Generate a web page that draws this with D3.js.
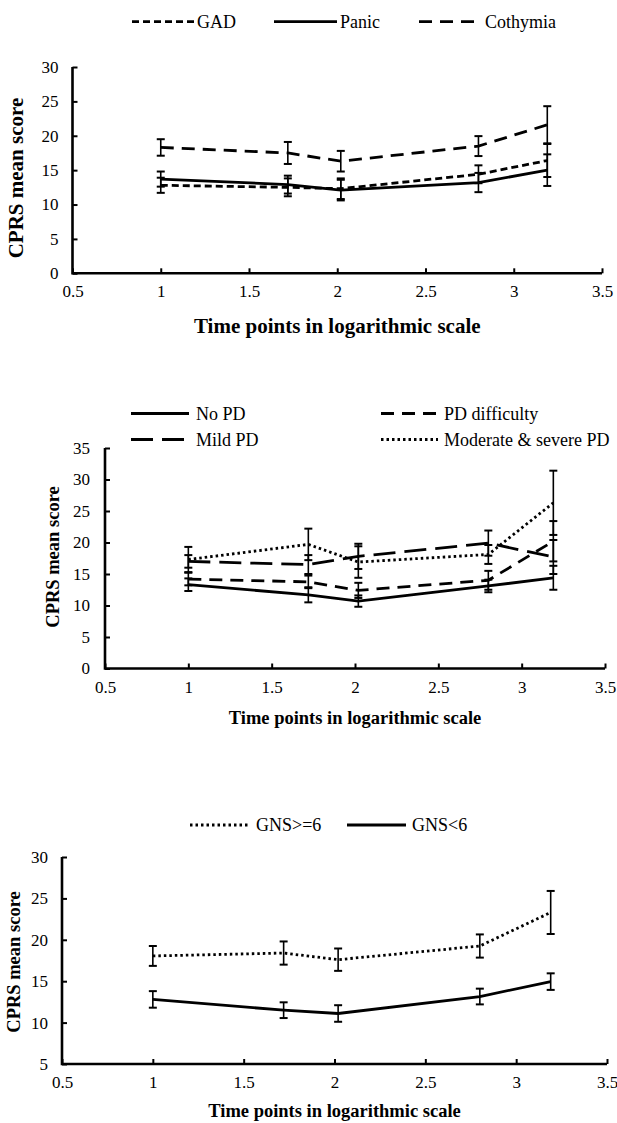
<!DOCTYPE html>
<html>
<head>
<meta charset="utf-8">
<script src="https://cdn.jsdelivr.net/npm/d3@7"></script>
<style>
body{margin:0;background:#fff}
svg text{font-family:"Liberation Serif","DejaVu Serif",serif;fill:#000}
</style>
</head>
<body>
<div id="chart"></div>
<script>
var w = 617
var h = 1123
var serif = '"Liberation Serif", "DejaVu Serif", serif'

// time points (log scale) shared by all panels
var timePoints = [1, 1.72, 2.02, 2.8, 3.19]
var xTicks = [0.5, 1, 1.5, 2, 2.5, 3, 3.5]

// panel 1
var p1Names = ["GAD", "Panic", "Cothymia"]
var gadMean = [12.8, 12.5, 12.3, 14.4, 16.4]
var gadErr = [1.1, 1.3, 1.5, 1.3, 2.4]
var panicMean = [13.7, 12.9, 12.1, 13.2, 15.0]
var panicErr = [1.1, 1.3, 1.5, 1.4, 2.3]
var cothymiaMean = [18.3, 17.5, 16.3, 18.5, 21.6]
var cothymiaErr = [1.2, 1.6, 1.5, 1.45, 2.7]
var p1Ticks = [0, 5, 10, 15, 20, 25, 30]

// panel 2
var p2Names = ["No PD", "PD difficulty", "Mild PD", "Moderate & severe PD"]
var noPdMean = [13.3, 11.7, 10.7, 13.1, 14.4]
var noPdErr = [1.0, 1.2, 0.9, 1.0, 1.9]
var pdDiffMean = [14.2, 13.75, 12.4, 14.0, 20.2]
var pdDiffErr = [1.0, 1.0, 1.2, 1.5, 3.2]
var mildMean = [17.0, 16.5, 17.8, 19.9, 17.7]
var mildErr = [1.0, 1.5, 2.0, 2.0, 2.7]
var modSevMean = [17.3, 19.7, 16.9, 18.1, 26.3]
var modSevErr = [2.0, 2.5, 2.5, 1.5, 5.1]
var p2Ticks = [0, 5, 10, 15, 20, 25, 30, 35]

// panel 3
var p3Names = ["GNS>=6", "GNS<6"]
var gnsHighMean = [18.05, 18.4, 17.6, 19.25, 23.3]
var gnsHighErr = [1.2, 1.4, 1.35, 1.4, 2.6]
var gnsLowMean = [12.8, 11.5, 11.1, 13.15, 14.95]
var gnsLowErr = [1.0, 0.95, 1.0, 0.95, 1.0]
var p3Ticks = [5, 10, 15, 20, 25, 30]

var dash = {
	solid: null,
	short: "7,4",
	medium: "13,8",
	long: "22,9",
	dot: "2.5,3"
}

var svg = d3.select("#chart").append("svg").attr("width", w).attr("height", h)
	.style("font-family", serif)

function zip(mean, err){
	return timePoints.map(function(t, i){ return {x: t, y: mean[i], e: err[i]} })
}

function drawPanel(p){
	var x = d3.scaleLinear().domain([0.5, 3.5]).range([p.left, p.right])
	var y = d3.scaleLinear().domain([p.ticks[0], p.ticks[p.ticks.length-1]]).range([p.bottom, p.top])
	var g = svg.append("g")

	// series lines
	var line = d3.line().x(function(d){ return x(d.x) }).y(function(d){ return y(d.y) })
	p.series.forEach(function(s){
		var pts = zip(s.mean, s.err)
		g.append("path")
		.attr("d", line(pts))
		.attr("fill", "none")
		.attr("stroke", "#000")
		.attr("stroke-width", 2.8)
		.attr("stroke-dasharray", dash[s.style])

		// error bars
		var eb = g.selectAll(null).data(pts).enter().append("g")
		eb.append("line")
		.attr("x1", function(d){ return x(d.x) }).attr("x2", function(d){ return x(d.x) })
		.attr("y1", function(d){ return y(d.y + d.e) }).attr("y2", function(d){ return y(d.y - d.e) })
		.attr("stroke", "#000").attr("stroke-width", 1.6)
		eb.append("line")
		.attr("x1", function(d){ return x(d.x) - 4 }).attr("x2", function(d){ return x(d.x) + 4 })
		.attr("y1", function(d){ return y(d.y + d.e) }).attr("y2", function(d){ return y(d.y + d.e) })
		.attr("stroke", "#000").attr("stroke-width", 2)
		eb.append("line")
		.attr("x1", function(d){ return x(d.x) - 4 }).attr("x2", function(d){ return x(d.x) + 4 })
		.attr("y1", function(d){ return y(d.y - d.e) }).attr("y2", function(d){ return y(d.y - d.e) })
		.attr("stroke", "#000").attr("stroke-width", 2)
	})

	// axes
	var xAxis = g.append("g").attr("transform", "translate(0," + p.bottom + ")")
	.call(d3.axisBottom(x).tickValues(xTicks).tickSize(-5).tickFormat(function(d){ return d }))
	var yAxis = g.append("g").attr("transform", "translate(" + p.left + ",0)")
	.call(d3.axisLeft(y).tickValues(p.ticks).tickSize(-5).tickFormat(function(d){ return d }))
	;[xAxis, yAxis].forEach(function(a){
		a.attr("font-family", serif).attr("font-size", 17)
		a.select(".domain").remove()
		a.selectAll(".tick line").attr("stroke", "#000").attr("stroke-width", 2)
		a.selectAll(".tick text").style("font-family", serif).style("font-size", "17px").attr("fill", "#000")
	})
	xAxis.selectAll(".tick text").attr("y", 12)
	yAxis.selectAll(".tick text").attr("x", -p.yLabelGap)
	g.append("path")
	.attr("d", "M" + p.left + "," + p.top + "V" + p.bottom + "H" + p.right)
	.attr("fill", "none").attr("stroke", "#000").attr("stroke-width", 2.6)

	// axis titles
	g.append("text")
	.attr("x", (p.left + p.right) / 2).attr("y", p.xTitleY)
	.attr("text-anchor", "middle")
	.style("font-family", serif)
	.style("font-weight", "bold").style("font-size", p.titleSize + "px")
	.text("Time points in logarithmic scale")
	g.append("text")
	.attr("transform", "translate(" + p.yTitleX + "," + p.yTitleY + ") rotate(-90)")
	.attr("text-anchor", "middle").attr("dy", "0.35em")
	.style("font-family", serif)
	.style("font-weight", "bold").style("font-size", p.yTitleSize + "px")
	.text("CPRS mean score")

	// legend
	p.legend.forEach(function(l){
		g.append("line")
		.attr("x1", l.x1).attr("x2", l.x2).attr("y1", l.y).attr("y2", l.y)
		.attr("stroke", "#000").attr("stroke-width", 2.8)
		.attr("stroke-dasharray", dash[l.style])
		g.append("text")
		.attr("x", l.tx).attr("y", l.y).attr("dy", "0.35em")
		.style("font-family", serif)
		.style("font-size", "18px")
		.text(l.name)
	})
}

drawPanel({
	left: 72.5, right: 602, top: 67, bottom: 273.3, ticks: p1Ticks, yLabelGap: 14,
	xTitleY: 333, titleSize: 21, yTitleX: 16, yTitleY: 178, yTitleSize: 21,
	series: [
		{mean: gadMean, err: gadErr, style: "short"},
		{mean: panicMean, err: panicErr, style: "solid"},
		{mean: cothymiaMean, err: cothymiaErr, style: "medium"}
	],
	legend: [
		{name: p1Names[0], style: "short", x1: 132, x2: 195, tx: 197, y: 21.7},
		{name: p1Names[1], style: "solid", x1: 274, x2: 337, tx: 340, y: 21.7},
		{name: p1Names[2], style: "medium", x1: 419, x2: 482, tx: 485, y: 21.7}
	]
})

drawPanel({
	left: 105, right: 605, top: 448, bottom: 668.5, ticks: p2Ticks, yLabelGap: 15,
	xTitleY: 724, titleSize: 18.5, yTitleX: 53, yTitleY: 557, yTitleSize: 18.5,
	series: [
		{mean: noPdMean, err: noPdErr, style: "solid"},
		{mean: pdDiffMean, err: pdDiffErr, style: "medium"},
		{mean: mildMean, err: mildErr, style: "long"},
		{mean: modSevMean, err: modSevErr, style: "dot"}
	],
	legend: [
		{name: p2Names[0], style: "solid", x1: 131, x2: 189, tx: 196, y: 413.5},
		{name: p2Names[1], style: "medium", x1: 381, x2: 438, tx: 444, y: 413.5},
		{name: p2Names[2], style: "long", x1: 131, x2: 189, tx: 196, y: 439.5},
		{name: p2Names[3], style: "dot", x1: 381, x2: 438, tx: 444, y: 439.5}
	]
})

drawPanel({
	left: 62, right: 607, top: 857, bottom: 1064, ticks: p3Ticks, yLabelGap: 14,
	xTitleY: 1117, titleSize: 18.5, yTitleX: 14, yTitleY: 962, yTitleSize: 18.5,
	series: [
		{mean: gnsHighMean, err: gnsHighErr, style: "dot"},
		{mean: gnsLowMean, err: gnsLowErr, style: "solid"}
	],
	legend: [
		{name: p3Names[0], style: "dot", x1: 190, x2: 248, tx: 256, y: 825},
		{name: p3Names[1], style: "solid", x1: 347, x2: 406, tx: 412, y: 825}
	]
})
</script>
</body>
</html>
